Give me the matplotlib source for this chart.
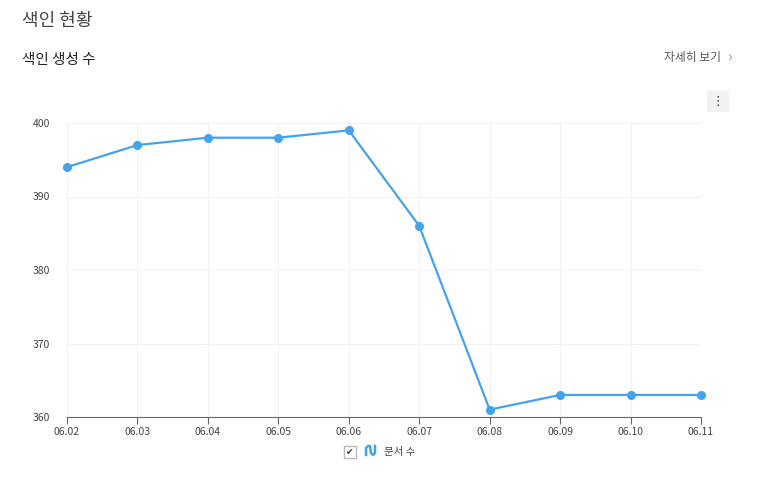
import matplotlib.pyplot as plt
from matplotlib.patches import Rectangle
from matplotlib.lines import Line2D

plt.rcParams['font.family'] = ['Noto Sans CJK KR', 'DejaVu Sans']

# data
dates = ["06.02", "06.03", "06.04", "06.05", "06.06", "06.07", "06.08", "06.09", "06.10", "06.11"]
doc_counts = [394, 397, 398, 398, 399, 386, 361, 363, 363, 363]
y_ticks = [360, 370, 380, 390, 400]
series_name = "문서 수"

line_color = "#45a3ec"
W, H = 761, 479

fig = plt.figure(figsize=(W / 100, H / 100), dpi=100)
ax = fig.add_axes([67 / W, 1 - 417 / H, (701 - 67) / W, (417 - 123) / H])

x = list(range(len(dates)))
ax.plot(x, doc_counts, color=line_color, lw=1.6, marker="o", ms=5.5, zorder=3, clip_on=False)

ax.set_xlim(0, len(dates) - 1)
ax.set_ylim(360, 400)
ax.set_xticks(x)
ax.set_xticklabels(dates)
ax.set_yticks(y_ticks)
ax.grid(True, color="#f2f2f2", lw=0.8)
ax.set_axisbelow(True)
for s in ["top", "right", "left"]:
    ax.spines[s].set_visible(False)
ax.spines["bottom"].set_color("#666666")
ax.tick_params(axis="x", length=5, color="#666666", labelsize=7.5, labelcolor="#444444", pad=2)
ax.tick_params(axis="y", length=0, labelsize=7.5, labelcolor="#444444", pad=12)

# header texts
fig.text(22 / W, 1 - 21 / H, "색인 현황", fontsize=13, color="#444444", va="center")
fig.text(22 / W, 1 - 60 / H, "색인 생성 수", fontsize=10.5, color="#222222", va="center")
fig.text(721 / W, 1 - 58 / H, "자세히 보기", fontsize=8.5, color="#555555", va="center", ha="right")
fig.text(727 / W, 1 - 58 / H, "›", fontsize=11, color="#999999", va="center", ha="left")

# menu button
fig.patches.append(Rectangle((707 / W, 1 - 112 / H), 22 / W, 22 / H, transform=fig.transFigure,
                             facecolor="#f2f2f2", edgecolor="none"))
fig.text(718 / W, 1 - 101 / H, "⋮", fontsize=9, color="#333333", ha="center", va="center",
         family=['DejaVu Sans'])

# legend
fig.patches.append(Rectangle((344 / W, 1 - 458 / H), 12 / W, 12 / H, transform=fig.transFigure,
                             facecolor="white", edgecolor="#bbbbbb", lw=1))
fig.text(350 / W, 1 - 452 / H, "✔", fontsize=6.5, color="#333333", ha="center", va="center",
         family=['DejaVu Sans'])
fig.lines.append(Line2D([366 / W, 366 / W, 368 / W, 370 / W, 371 / W, 373 / W, 375 / W, 375 / W],
                        [1 - 455 / H, 1 - 448 / H, 1 - 446 / H, 1 - 446 / H, 1 - 453 / H,
                         1 - 455 / H, 1 - 453 / H, 1 - 446 / H],
                        transform=fig.transFigure, color=line_color, lw=1.8))
fig.text(384 / W, 1 - 452 / H, series_name, fontsize=7.5, color="#444444", va="center")

fig.savefig("out.png", dpi=100)
